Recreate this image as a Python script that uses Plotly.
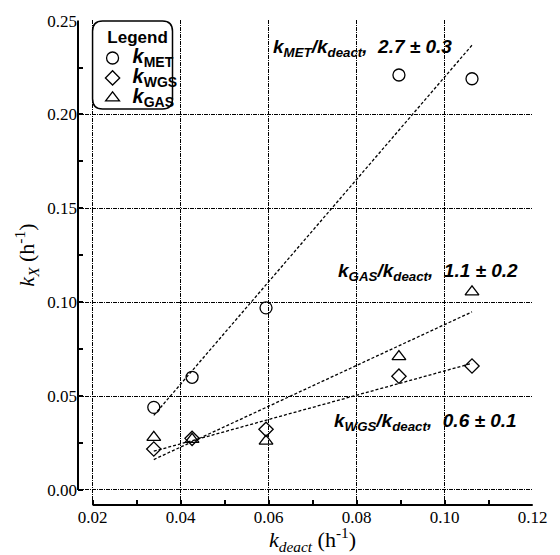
import numpy as np
import plotly.graph_objects as go

# ---- data ----
k_deact = [0.0339, 0.0426, 0.0594, 0.0896, 0.1062]
k_met = [0.044, 0.060, 0.097, 0.221, 0.219]
k_wgs = [0.0218, 0.0275, 0.0323, 0.0606, 0.066]
k_gas = [0.028, 0.027, 0.026, 0.071, 0.1055]

series_names = ["MET", "WGS", "GAS"]
series_values = [k_met, k_wgs, k_gas]
series_symbols = ["circle-open", "diamond-open", "triangle-up-open"]
series_sizes = [12, 11, 12]

fit_labels = {
    "MET": "2.7 ± 0.3",
    "WGS": "0.6 ± 0.1",
    "GAS": "1.1 ± 0.2",
}
# label anchor positions (data coords, left-middle of text)
label_pos = {
    "MET": (0.0606, 0.2355),
    "GAS": (0.0752, 0.1160),
    "WGS": (0.0745, 0.0360),
}

x_ticks = [0.02, 0.04, 0.06, 0.08, 0.10, 0.12]
y_ticks = [0.00, 0.05, 0.10, 0.15, 0.20, 0.25]

SERIF = "Times New Roman, Liberation Serif, serif"
SANS = "Arial, Liberation Sans, sans-serif"

fig = go.Figure()

# fit lines
xs = np.array(k_deact)
for name, vals in zip(series_names, series_values):
    slope, intercept = np.polyfit(xs, np.array(vals), 1)
    xl = np.array([xs.min(), xs.max()])
    fig.add_trace(go.Scatter(
        x=xl, y=slope * xl + intercept, mode="lines",
        line=dict(color="black", width=1.3, dash="3px,2px"),
        showlegend=False, hoverinfo="skip"))

# markers
for name, vals, sym, sz in zip(series_names, series_values, series_symbols, series_sizes):
    fig.add_trace(go.Scatter(
        x=k_deact, y=vals, mode="markers",
        name=f'<span style="font-size:20px"><b><i>k</i><sub>{name}</sub></b></span>',
        marker=dict(symbol=sym, size=sz, color="black", line=dict(color="black", width=1.3)),
    ))

grid_dash = "4px,1px,1px,1px"
fig.update_xaxes(
    range=[0.01668, 0.12006], tickvals=x_ticks, ticktext=[f"{v:.2f}" for v in x_ticks],
    showgrid=True, gridcolor="black", gridwidth=1, griddash=grid_dash,
    zeroline=False, showline=False,
    ticks="inside", ticklen=5, tickwidth=1.5, tickcolor="black",
    minor=dict(ticks="inside", ticklen=5, tickwidth=1.5, tickcolor="black", dtick=0.01, tick0=0, showgrid=False),
    tickfont=dict(family=SERIF, size=17, color="black"),
)
fig.update_yaxes(
    range=[-0.008, 0.2503], tickvals=y_ticks, ticktext=[f"{v:.2f}" for v in y_ticks],
    showgrid=True, gridcolor="black", gridwidth=1, griddash=grid_dash,
    zeroline=False, showline=False,
    ticks="inside", ticklen=5, tickwidth=1.5, tickcolor="black",
    minor=dict(ticks="inside", ticklen=5, tickwidth=1.5, tickcolor="black", dtick=0.025, tick0=0, showgrid=False),
    tickfont=dict(family=SERIF, size=17, color="black"),
)

shapes = [
    # detached axis lines
    dict(type="line", xref="x", yref="paper", x0=0.02, x1=0.12, y0=0, y1=0,
         line=dict(color="black", width=2)),
    dict(type="line", xref="paper", yref="y", x0=0, x1=0, y0=0.0, y1=0.25,
         line=dict(color="black", width=2)),
]
# rounded legend box (paper coords)
x0, x1, y0, y1, r = 0.032, 0.2077, 0.8165, 0.998, 0.022
ry = r * 467 / 485
path = (f"M {x0+r},{y1} L {x1-r},{y1} Q {x1},{y1} {x1},{y1-ry} "
        f"L {x1},{y0+ry} Q {x1},{y0} {x1-r},{y0} L {x0+r},{y0} Q {x0},{y0} {x0},{y0+ry} "
        f"L {x0},{y1-ry} Q {x0},{y1} {x0+r},{y1} Z")
shapes.append(dict(type="path", xref="paper", yref="paper", path=path,
                   fillcolor="white", line=dict(color="black", width=1.5), layer="above"))

annotations = []
for name in ["MET", "GAS", "WGS"]:
    lx, ly = label_pos[name]
    annotations.append(dict(
        x=lx, y=ly, xref="x", yref="y", xanchor="left", yanchor="middle", showarrow=False,
        text=f"<b><i>k<sub>{name}</sub>/k<sub>deact</sub>,\u00a0\u00a0{fit_labels[name]}</i></b>",
        font=dict(family=SANS, size=19, color="black")))

annotations.append(dict(
    x=0.07, y=0, xref="x", yref="paper", xanchor="center", yanchor="top", yshift=-17,
    showarrow=False, text="<i>k</i><sub><i>deact</i></sub> (h<sup>-1</sup>)",
    font=dict(family=SERIF, size=22, color="black")))
annotations.append(dict(
    x=-0.1135, y=0.125, xref="paper", yref="y", xanchor="center", yanchor="middle",
    textangle=-90, showarrow=False, text="<i>k<sub>X</sub></i> (h<sup>-1</sup>)",
    font=dict(family=SERIF, size=22, color="black")))

fig.update_layout(
    width=560, height=555,
    margin=dict(l=78, r=15, t=20, b=50),
    plot_bgcolor="white", paper_bgcolor="white",
    shapes=shapes, annotations=annotations,
    showlegend=True,
    legend=dict(
        x=0.032, y=0.998, xanchor="left", yanchor="top",
        bgcolor="rgba(0,0,0,0)", borderwidth=0,
        font=dict(family=SANS, size=13, color="black"),
        title=dict(text="<b>Legend</b>", side="top center",
                   font=dict(family=SANS, size=17, color="black")),
        itemwidth=30,
    ),
)

fig.write_html("out.html")
